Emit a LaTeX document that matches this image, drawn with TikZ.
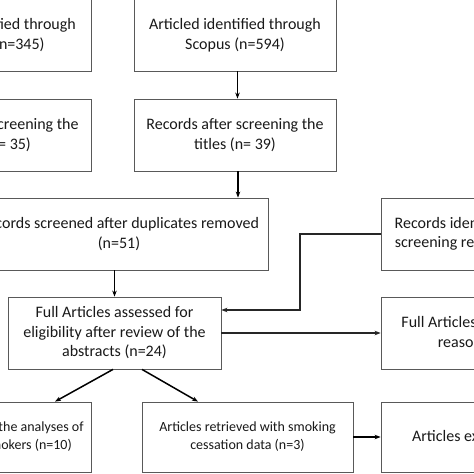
\documentclass[tikz,border=0pt]{standalone}
\usepackage{fontspec}
\setmainfont{Carlito}
\usetikzlibrary{arrows.meta}
\begin{document}
\begin{tikzpicture}[x=1pt,y=-1pt,
  box/.style={draw=black!65,line width=0.8pt,rectangle,align=center,inner sep=0pt,
    minimum height=72pt,font=\fontsize{16}{19.5}\selectfont,text=black!90},
  sbox/.style={box,minimum height=70pt,font=\fontsize{14}{18}\selectfont},
  arr/.style={-{Stealth[length=6pt,width=4.5pt]},line width=1.5pt,black},
  thinarr/.style={-{Stealth[length=6pt,width=4.5pt]},line width=1.1pt,black!85}]
\useasboundingbox[fill=white] (0,0) rectangle (474,474);
% top row
\node[box,minimum width=202pt] (pub) at (-10,35) {Articled identified through\\PubMed (n=345)};
\node[box,minimum width=202pt] (sco) at (235,35) {Articled identified through\\Scopus (n=594)};
% second row
\node[box,minimum width=202pt] (tl) at (-10,135) {Records after screening the\\titles (n= 35)};
\node[box,minimum width=202pt] (tm) at (235,135) {Records after screening the\\titles (n= 39)};
% third row
\node[box,minimum width=298pt] (dup) at (119,234) {Records screened after duplicates removed\\(n=51)};
\node[box,minimum width=200pt] (ref) at (481,234) {Records identified through\\screening references (n=3)};
% fourth row
\node[box,minimum width=213pt] (fa) at (114.5,333) {Full Articles assessed for\\eligibility after review of the\\abstracts (n=24)};
\node[box,minimum width=210pt] (fex) at (486,333) {Full Articles excluded with\\reasons (n=11)};
% bottom row
\node[sbox,minimum width=211pt] (bl) at (-14.5,437) {Articles included in the analyses of\\dual users and smokers (n=10)};
\node[sbox,minimum width=211pt] (bm) at (247.5,437) {Articles retrieved with smoking\\cessation data (n=3)};
\node[box,minimum width=210pt,minimum height=70pt] (br) at (486,437) {Articles excluded (n=2)};
% connectors
\draw[arr] ([xshift=2.5pt]sco.south) -- ([xshift=2.5pt]tm.north);
\draw[arr] ([xshift=3pt]tm.south) -- ([xshift=3pt]tm.south |- dup.north);
\draw[arr] (fa.north |- dup.south) -- (fa.north);
\coordinate (bend) at (300,234);
\draw[thinarr] (ref.west) -- (bend) |- ([yshift=23pt]fa.east);
\draw[thinarr] (fa.east) -- (fex.west);
\draw[arr] ([xshift=-1.5pt]fa.south) -- ([xshift=69.5pt]bl.north);
\draw[arr] ([xshift=27.5pt]fa.south) -- ([xshift=-49.5pt]bm.north);
\draw[arr] (bm.east) -- (br.west);
\end{tikzpicture}
\end{document}
